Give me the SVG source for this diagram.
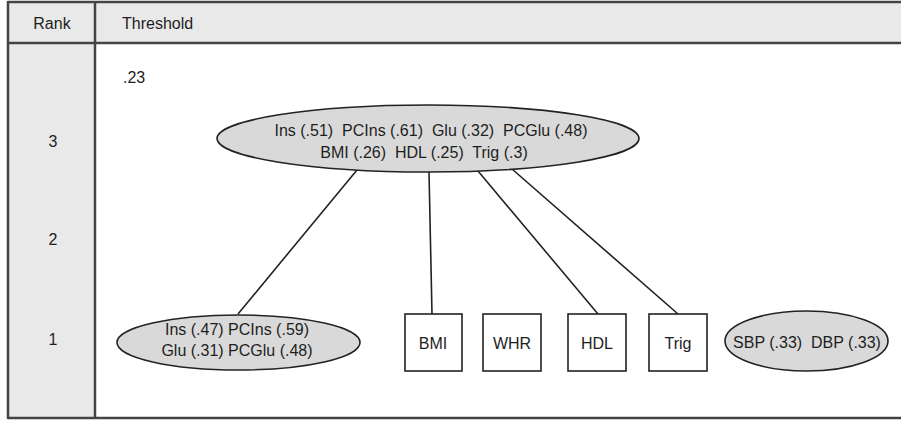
<svg xmlns="http://www.w3.org/2000/svg" width="901" height="421" viewBox="0 0 901 421">
<style>
text{font-family:"Liberation Sans",Arial,sans-serif;font-size:16px;fill:#1e1e1e}
.cell{fill:#e9e9e9;stroke:none}
.grid{stroke:#444;stroke-width:2.5;fill:none}
.ell{fill:#d9d9d9;stroke:#222;stroke-width:1.6}
.box{fill:#fff;stroke:#222;stroke-width:1.6}
.con line{stroke:#222;stroke-width:1.6}
.c{text-anchor:middle}
</style>
<rect width="901" height="421" fill="#fff"/>
<g id="table">
<rect class="cell" x="8" y="2" width="893" height="41"/>
<rect class="cell" x="8" y="43" width="87" height="375"/>
<line class="grid" x1="8" y1="2" x2="901" y2="2"/>
<line class="grid" x1="8" y1="43" x2="901" y2="43"/>
<line class="grid" x1="8" y1="418" x2="901" y2="418"/>
<line class="grid" x1="8" y1="1" x2="8" y2="419"/>
<line class="grid" x1="95" y1="1" x2="95" y2="419"/>
<text class="c" x="52" y="29">Rank</text>
<text x="122" y="29">Threshold</text>
<text x="123" y="83">.23</text>
<text class="c" x="53" y="147">3</text>
<text class="c" x="53" y="245">2</text>
<text class="c" x="53" y="345">1</text>
</g>
<g class="con" id="connectors">
<line x1="357" y1="170" x2="238" y2="314"/>
<line x1="429" y1="172" x2="432" y2="314"/>
<line x1="478" y1="171" x2="598" y2="314"/>
<line x1="512" y1="169" x2="678" y2="314"/>
</g>
<g id="top">
<ellipse class="ell" cx="428" cy="138.5" rx="211" ry="33.5"/>
<text class="c" x="431" y="136" xml:space="preserve">Ins (.51)  PCIns (.61)  Glu (.32)  PCGlu (.48)</text>
<text class="c" x="424" y="158" xml:space="preserve">BMI (.26)  HDL (.25)  Trig (.3)</text>
</g>
<g id="ins1">
<ellipse class="ell" cx="238.5" cy="342.5" rx="121.5" ry="27.5"/>
<text class="c" x="237" y="335">Ins (.47) PCIns (.59)</text>
<text class="c" x="237" y="356">Glu (.31) PCGlu (.48)</text>
</g>
<g id="bmi"><rect class="box" x="405" y="314" width="57" height="57"/><text class="c" x="433" y="349">BMI</text></g>
<g id="whr"><rect class="box" x="483" y="314" width="58" height="57"/><text class="c" x="512" y="349">WHR</text></g>
<g id="hdl"><rect class="box" x="568" y="314" width="58" height="57"/><text class="c" x="597" y="349">HDL</text></g>
<g id="trig"><rect class="box" x="649" y="314" width="58" height="57"/><text class="c" x="678" y="349">Trig</text></g>
<g id="bp">
<ellipse class="ell" cx="806.5" cy="341" rx="81.5" ry="30"/>
<text class="c" x="807" y="348" xml:space="preserve">SBP (.33)  DBP (.33)</text>
</g>
</svg>
